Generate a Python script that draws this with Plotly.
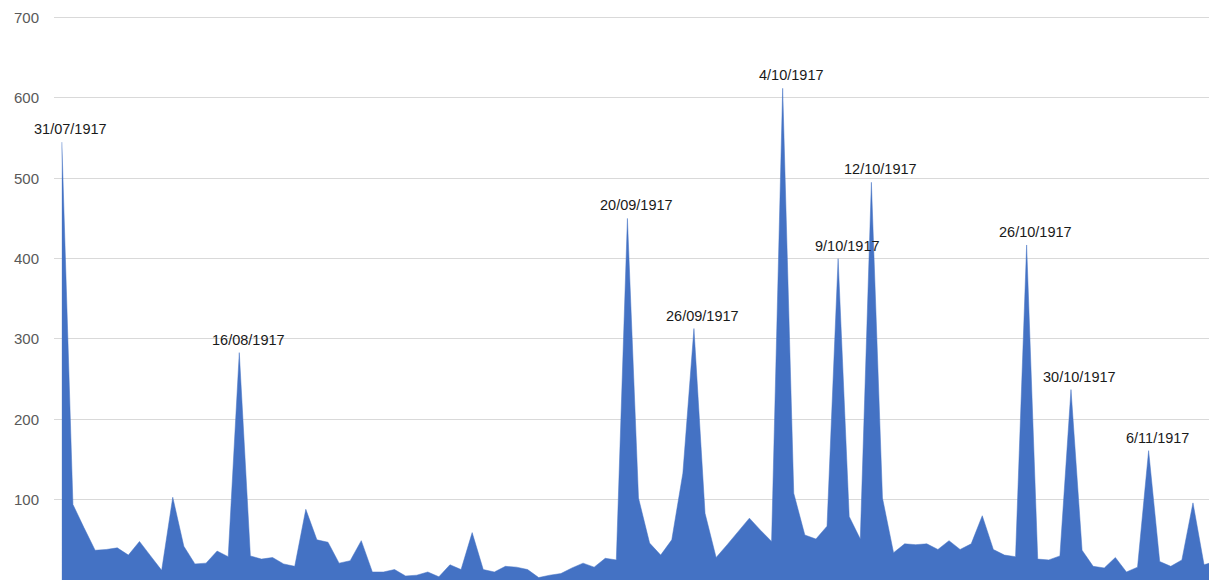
import plotly.graph_objects as go
import pandas as pd

# Daily values from 31/07/1917 onward
start_date = "1917-07-31"
values = [
    545, 94, 65, 37, 38, 40, 31, 48, 30, 12,
    103, 42, 20, 21, 36, 29, 283, 30, 26, 28,
    20, 17, 88, 50, 47, 21, 24, 49, 10, 10,
    13, 5, 6, 10, 4, 19, 13, 59, 13, 10,
    17, 16, 13, 3, 6, 8, 15, 21, 16, 27,
    25, 450, 102, 46, 31, 50, 133, 313, 83, 28,
    44, 61, 77, 62, 48, 612, 108, 56, 51, 67,
    400, 79, 51, 495, 102, 34, 45, 44, 45, 38,
    49, 38, 45, 80, 38, 31, 29, 417, 26, 25,
    30, 237, 37, 17, 15, 28, 10, 16, 161, 23,
    17, 25, 96, 19, 23,
]
peak_labels = [
    "31/07/1917", "16/08/1917", "20/09/1917", "26/09/1917", "4/10/1917",
    "9/10/1917", "12/10/1917", "26/10/1917", "30/10/1917", "6/11/1917",
]
y_ticks = [0, 100, 200, 300, 400, 500, 600, 700]

dates = pd.date_range(start_date, periods=len(values), freq="D")

fig = go.Figure()
fig.add_trace(go.Scatter(
    x=dates, y=values, mode="lines", fill="tozeroy",
    line=dict(color="#4472C4", width=0.5), fillcolor="#4472C4",
    hoverinfo="x+y", showlegend=False,
))

for lab in peak_labels:
    d = pd.to_datetime(lab, format="%d/%m/%Y")
    idx = list(dates).index(d)
    fig.add_annotation(
        x=dates[idx], y=values[idx], text=lab, showarrow=False,
        xanchor="center", yanchor="middle", xshift=9, yshift=13,
        font=dict(family="Liberation Sans, Arial, sans-serif", size=14.5, color="#1a1a1a"),
    )

fig.update_layout(
    width=1217, height=580,
    margin=dict(l=46, r=8, t=8, b=8, autoexpand=False),
    paper_bgcolor="white", plot_bgcolor="white",
    showlegend=False,
    xaxis=dict(
        range=[dates[0] - pd.Timedelta(hours=17), dates[-1] + pd.Timedelta(hours=4)],
        showticklabels=False, showgrid=False, zeroline=False, showline=False,
        ticks="", automargin=False,
    ),
    yaxis=dict(
        range=[0, 702], tickvals=y_ticks, ticktext=[str(v) for v in y_ticks],
        showgrid=True, gridcolor="#d9d9d9", gridwidth=1,
        zeroline=False, showline=False, ticks="", automargin=False,
        ticklabelstandoff=14,
        tickfont=dict(family="Liberation Sans, Arial, sans-serif", size=15, color="#595959"),
    ),
)

fig.write_html("out.html")
